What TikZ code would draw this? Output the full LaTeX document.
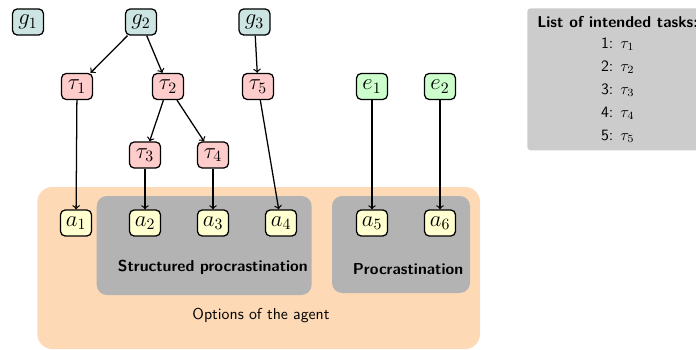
\documentclass[tikz,border=0pt]{standalone}
\usepackage{tikz}
\definecolor{gfill}{HTML}{CCE5E2}
\definecolor{tfill}{HTML}{FFCCCC}
\definecolor{efill}{HTML}{CCFFCC}
\definecolor{afill}{HTML}{FFFFD0}
\definecolor{optfill}{HTML}{FDD9B5}
\definecolor{grpfill}{HTML}{B3B3B3}
\definecolor{listfill}{HTML}{CCCCCC}
\tikzset{
  box/.style={draw=black, thick, rounded corners=3pt, minimum width=19.6pt, minimum height=16.5pt, inner sep=1.2pt, font=\Large},
  goal/.style={box, fill=gfill},
  task/.style={box, fill=tfill},
  ext/.style={box, fill=efill},
  act/.style={box, fill=afill},
  link/.style={->, thick},
}
\begin{document}
\begin{tikzpicture}[x=0.633pt, y=-0.633pt]
\useasboundingbox (0,0) rectangle (696,350);
% containers
\node[fill=optfill, rounded corners=9.5pt, minimum width=442.7*0.633pt, minimum height=162*0.633pt, inner sep=0pt] (opt) at (258.65,268) {};
\node[fill=grpfill, rounded corners=6.5pt, minimum width=215*0.633pt, minimum height=99*0.633pt, inner sep=0pt] (sp) at (204.2,245.5) {};
\node[fill=grpfill, rounded corners=6.5pt, minimum width=138*0.633pt, minimum height=97*0.633pt, inner sep=0pt] (pr) at (401,244.5) {};
\node[font=\sffamily\bfseries] (spl) at (212.8,267) {Structured procrastination};
\node[font=\sffamily\bfseries] (prl) at (408,269) {Procrastination};
\node[font=\sffamily] (optl) at (261,315) {Options of the agent};
% list
\node[fill=listfill, rounded corners=2pt, anchor=north west, align=center, font=\sffamily, inner xsep=6.3pt, inner ysep=4pt, minimum height=142*0.633pt] (list) at (527,8)
  {\textbf{List of intended tasks:}\\[1.3pt] 1: $\tau_1$\\[2.6pt] 2: $\tau_2$\\[2.6pt] 3: $\tau_3$\\[2.6pt] 4: $\tau_4$\\[2.6pt] 5: $\tau_5$};
% goals
\node[goal] (g1) at (28,22) {$g_1$};
\node[goal] (g2) at (141,22) {$g_2$};
\node[goal] (g3) at (254.5,22) {$g_3$};
% tasks
\node[task] (t1) at (77,86.5) {$\tau_1$};
\node[task] (t2) at (168,86.5) {$\tau_2$};
\node[task] (t5) at (258,86.5) {$\tau_5$};
\node[task] (t3) at (145,155) {$\tau_3$};
\node[task] (t4) at (213,155) {$\tau_4$};
% externals
\node[ext] (e1) at (372,86.5) {$e_1$};
\node[ext] (e2) at (440,86.5) {$e_2$};
% actions
\node[act] (a1) at (76,223) {$a_1$};
\node[act] (a2) at (145,223) {$a_2$};
\node[act] (a3) at (213,223) {$a_3$};
\node[act] (a4) at (281,223) {$a_4$};
\node[act] (a5) at (372,223) {$a_5$};
\node[act] (a6) at (440,223) {$a_6$};
% edges
\draw[link] (g2) -- (t1);
\draw[link] (g2) -- (t2);
\draw[link] (g3) -- (t5);
\draw[link] (t2) -- (t3);
\draw[link] (t2) -- (t4);
\draw[link] (t1) -- (a1);
\draw[link] (t3) -- (a2);
\draw[link] (t4) -- (a3);
\draw[link] (t5) -- (a4);
\draw[link] (e1) -- (a5);
\draw[link] (e2) -- (a6);
\end{tikzpicture}
\end{document}
